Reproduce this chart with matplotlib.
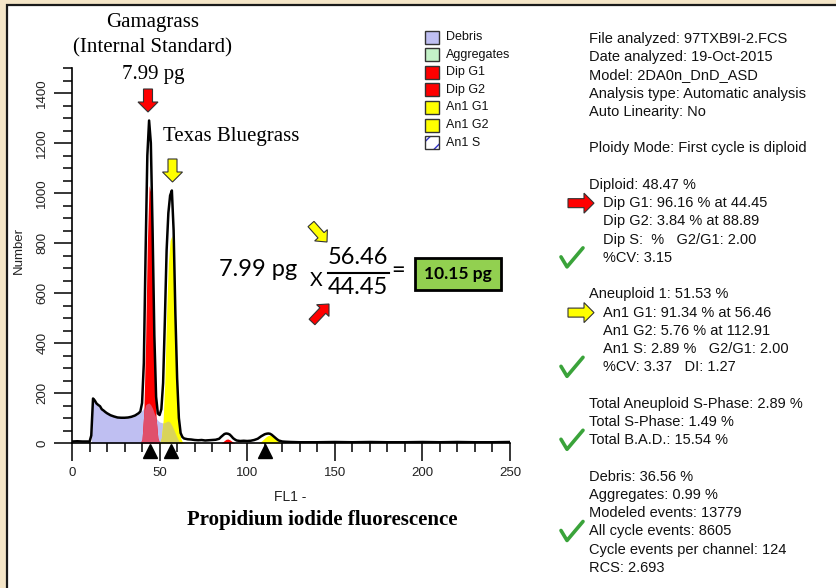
import numpy as np
import matplotlib
matplotlib.use("Agg")
import matplotlib.pyplot as plt
from matplotlib.patches import Rectangle, FancyArrow

# raw FL1 histogram (channel, count)
raw_ch = [0, 3, 6, 9, 10,
          11, 12, 13, 14, 15, 16, 17, 18, 19, 20,
          22, 24, 26, 28, 30, 32, 34, 36, 38,
          39, 40, 41, 42, 43, 44, 45, 46, 47, 48, 49, 50, 51, 52, 53, 54, 55, 56, 57,
          58, 59, 60, 61, 62, 63, 64,
          66, 68, 70, 72, 74, 76, 78, 80, 82, 84,
          85, 86, 87, 88, 89, 90, 91, 92, 93, 94,
          96, 98, 100, 102, 104, 106,
          107, 108, 109, 110, 111, 112, 113, 114, 115, 116, 117, 118,
          120, 122, 125,
          130, 140, 150, 160, 170, 180, 190, 200, 210, 220, 230, 240, 250]
raw_counts = [6, 7, 6, 6, 5,
              30, 178, 170, 158, 152, 147, 135, 130, 124, 119,
              111, 106, 102, 101, 101, 102, 105, 110, 119,
              126, 160, 320, 760, 1150, 1290, 1200, 850, 430, 185, 118, 112, 135, 240, 490, 770, 920, 990, 1010,
              850, 520, 260, 100, 40, 24, 18,
              15, 14, 12, 11, 12, 10, 11, 12, 13, 17,
              24, 30, 36, 38, 37, 34, 27, 19, 14, 10,
              8, 9, 8, 9, 12, 17,
              22, 27, 31, 35, 37, 38, 37, 33, 27, 21, 15, 10,
              6, 5, 4,
              3, 3, 4, 3, 4, 3, 3, 4, 3, 4, 3, 3, 4]

# model components, one value per channel from the start channel on
debris_start = 11
debris = [0, 175, 163, 153, 145, 138, 132, 126, 121, 117, 113, 110, 107, 105, 103, 101, 100, 99, 99, 99,
          100, 100, 102, 103, 105, 108, 112, 116, 122, 130, 140, 152, 158, 160, 152, 138, 118, 100, 90, 84,
          82, 80, 82, 86, 88, 82, 70, 55, 38, 22, 8, 2, 0, 0]
dip_g1_start = 39
dip_g1 = [0, 15, 120, 400, 800, 1030, 1000, 700, 320, 100, 20, 0]
an1_g1_start = 50
an1_g1 = [0, 20, 90, 250, 520, 720, 810, 830, 700, 420, 200, 70, 20, 4, 0]
dip_g2_start = 85
dip_g2 = [0, 4, 10, 15, 16, 13, 8, 3, 0]
an1_g2_start = 106
an1_g2 = [0, 3, 7, 13, 20, 26, 30, 31, 29, 24, 17, 10, 5, 2, 0]

peak_marks = [44.45, 56.46, 110]

legend_labels = ["Debris", "Aggregates", "Dip G1", "Dip G2", "An1 G1", "An1 G2", "An1 S"]
legend_colors = ["#bfbff2", "#c4f2c8", "#ff0000", "#ff0000", "#ffff00", "#ffff00", "white"]

report_lines = [
    "File analyzed: 97TXB9I-2.FCS",
    "Date analyzed: 19-Oct-2015",
    "Model: 2DA0n_DnD_ASD",
    "Analysis type: Automatic analysis",
    "Auto Linearity: No",
    "",
    "Ploidy Mode: First cycle is diploid",
    "",
    "Diploid: 48.47 %",
    "  Dip G1: 96.16 % at 44.45",
    "  Dip G2: 3.84 % at 88.89",
    "  Dip S:  %   G2/G1: 2.00",
    "  %CV: 3.15",
    "",
    "Aneuploid 1: 51.53 %",
    "  An1 G1: 91.34 % at 56.46",
    "  An1 G2: 5.76 % at 112.91",
    "  An1 S: 2.89 %   G2/G1: 2.00",
    "  %CV: 3.37   DI: 1.27",
    "",
    "Total Aneuploid S-Phase: 2.89 %",
    "Total S-Phase: 1.49 %",
    "Total B.A.D.: 15.54 %",
    "",
    "Debris: 36.56 %",
    "Aggregates: 0.99 %",
    "Modeled events: 13779",
    "All cycle events: 8605",
    "Cycle events per channel: 124",
    "RCS: 2.693",
]
check_rows = [12, 18, 22, 27]

W, H = 837, 588
SANS = "Liberation Sans"
SERIF = "Liberation Serif"
EQ = "Lato"


def channels(start, values):
    return np.arange(start, start + len(values))


def debris_at(ch):
    d = np.asarray(debris, dtype=float)
    idx = ch - debris_start
    out = np.zeros(len(ch))
    ok = (idx >= 0) & (idx < len(d))
    out[ok] = d[idx[ok]]
    return out


fig = plt.figure(figsize=(W / 100, H / 100), dpi=100, facecolor="#f5e6c8")

# page layer in pixel coordinates (y down)
deco = fig.add_axes([0, 0, 1, 1], zorder=0)
deco.set_xlim(0, W)
deco.set_ylim(H, 0)
deco.axis("off")
deco.add_patch(Rectangle((7, 5), W, H, facecolor="white", edgecolor="#1a1a1a", lw=1.6))

ax = fig.add_axes([72 / W, 1 - 443 / H, 438 / W, 375 / H], zorder=2)
ax.set_facecolor("none")

deb_ch = channels(debris_start, debris)
ax.fill_between(deb_ch, 0, debris, color=legend_colors[0], lw=0)
for start, vals, col in [(dip_g1_start, dip_g1, legend_colors[2]),
                         (dip_g2_start, dip_g2, legend_colors[3]),
                         (an1_g1_start, an1_g1, legend_colors[4]),
                         (an1_g2_start, an1_g2, legend_colors[5])]:
    ax.fill_between(channels(start, vals), 0, vals, color=col, lw=0)

# where the cycle peaks sit on top of the debris
g1_ch = channels(dip_g1_start, dip_g1)
ax.fill_between(g1_ch, 0, np.minimum(dip_g1, debris_at(g1_ch)), color="#e0506c", lw=0)
a1_ch = channels(an1_g1_start, an1_g1)
ax.fill_between(a1_ch, 0, np.minimum(an1_g1, debris_at(a1_ch)), color="#d9d35a", lw=0)

ax.plot(raw_ch, raw_counts, color="black", lw=1.8)
ax.plot(peak_marks, [-0.022] * len(peak_marks), "^", color="black", ms=10,
        transform=ax.get_xaxis_transform(), clip_on=False)

ax.set_xlim(0, 250)
ax.set_ylim(0, 1500)
for s in ["top", "right"]:
    ax.spines[s].set_visible(False)
for s in ["left", "bottom"]:
    ax.spines[s].set_linewidth(1.2)
ax.set_xticks(np.arange(0, 251, 50))
ax.set_xticks(np.arange(0, 251, 10), minor=True)
ax.set_yticks(np.arange(0, 1401, 200))
ax.set_yticks(np.arange(0, 1501, 50), minor=True)
ax.tick_params(which="major", length=13, width=1.1, pad=4, labelsize=9.5, labelcolor="#222")
ax.tick_params(which="minor", length=6.5, width=1.1)
ax.tick_params(axis="y", labelrotation=90)
for lbl in ax.get_yticklabels():
    lbl.set_va("center")
for lbl in ax.get_xticklabels() + ax.get_yticklabels():
    lbl.set_family(SANS)

deco.text(19, 250, "Number", rotation=90, ha="center", va="center", family=SANS, fontsize=9.5, color="#222")
deco.text(290, 497, "FL1 -", ha="center", va="center", family=SANS, fontsize=10, color="#222")
deco.text(322, 520, "Propidium iodide fluorescence", ha="center", va="center",
          family=SERIF, fontsize=15, fontweight="bold")

# peak annotations
for k, line in enumerate(["Gamagrass", "(Internal Standard)", "7.99 pg"]):
    deco.text(153, 22 + k * 26, line, ha="center", va="center", family=SERIF, fontsize=15)
deco.text(163, 137, "Texas Bluegrass", ha="left", va="center", family=SERIF, fontsize=15)


def block_arrow(x, y, dx, dy, col, w=9, hw=20, hl=10):
    deco.add_patch(FancyArrow(x, y, dx, dy, width=w, head_width=hw, head_length=hl,
                              length_includes_head=True, fc=col, ec="#333", lw=0.8))


block_arrow(148, 89, 0, 23, "#ff0000")
block_arrow(172.5, 159, 0, 23, "#ffff00")

# ratio equation
deco.text(258, 270, "7.99 pg", ha="center", va="center", family=EQ, fontsize=17)
deco.text(316, 281, "X", ha="center", va="center", family=EQ, fontsize=14)
deco.text(358, 258, "56.46", ha="center", va="center", family=EQ, fontsize=17)
deco.text(358, 288, "44.45", ha="center", va="center", family=EQ, fontsize=17)
deco.plot([328, 389], [273, 273], color="black", lw=1.5)
deco.text(398, 271, "=", ha="center", va="center", family=EQ, fontsize=17)
deco.add_patch(Rectangle((415, 258), 86, 32, facecolor="#92d050", edgecolor="black", lw=2))
deco.text(458, 274, "10.15 pg", ha="center", va="center", family=EQ, fontsize=12.5, fontweight="bold")
block_arrow(311, 224, 16, 18, "#ffff00", w=8, hw=17, hl=9)
block_arrow(312, 322, 17, -18, "#ff0000", w=8, hw=17, hl=9)

# legend
for k, (lab, col) in enumerate(zip(legend_labels, legend_colors)):
    yc = 37 + k * 17.6
    if lab == "An1 S":
        deco.add_patch(Rectangle((425, yc - 6.5), 14, 13, facecolor=col, edgecolor="#3333cc",
                                 lw=0, hatch="//"))
        col = "none"
    deco.add_patch(Rectangle((425, yc - 6.5), 14, 13, facecolor=col, edgecolor="#333", lw=1))
    deco.text(446, yc, lab, ha="left", va="center", family=SANS, fontsize=9, color="#111")

# analysis report
for k, line in enumerate(report_lines):
    if not line:
        continue
    x = 603 if line.startswith("  ") else 589
    deco.text(x, 39 + k * 18.24, line.strip(), ha="left", va="center", family=SANS,
              fontsize=10.5, color="#111")
for k in check_rows:
    y0 = 39 + k * 18.24
    deco.plot([561, 567, 583], [y0 - 1, y0 + 9, y0 - 10], color="#3aa33a", lw=2.6,
              solid_capstyle="round", solid_joinstyle="round")
block_arrow(568, 39 + 9 * 18.24, 26, 0, "#ff0000")
block_arrow(568, 39 + 15 * 18.24, 26, 0, "#ffff00")

fig.savefig("out.png", dpi=100, facecolor=fig.get_facecolor())
